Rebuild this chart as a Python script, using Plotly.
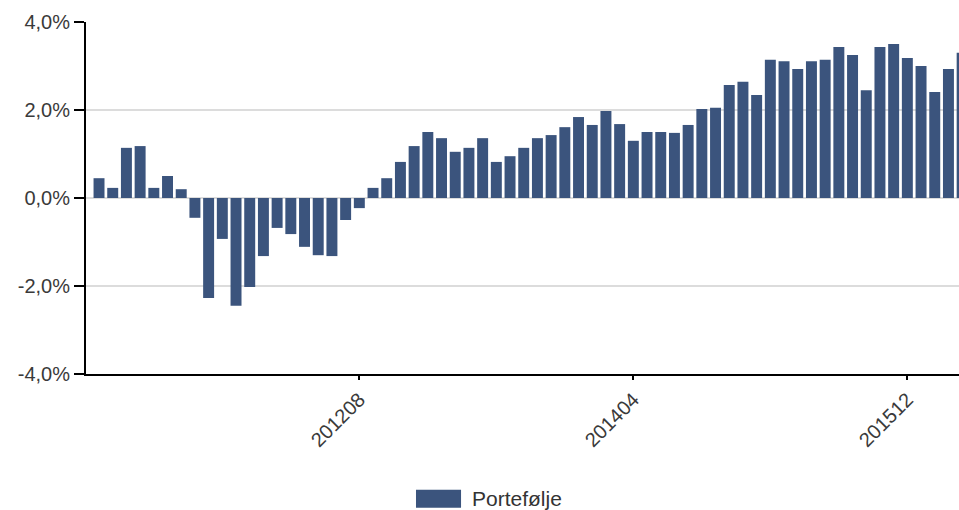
import pandas as pd
import plotly.graph_objects as go

# monthly periods 201101 .. 201604
months = list(pd.period_range("2011-01", periods=64, freq="M").strftime("%Y%m"))

# portfolio return, percent
portefolje = [0.45, 0.23, 1.14, 1.18, 0.23, 0.50, 0.20, -0.45, -2.27, -0.93,
              -2.45, -2.02, -1.32, -0.68, -0.82, -1.11, -1.30, -1.32, -0.50, -0.23,
              0.23, 0.45, 0.82, 1.18, 1.50, 1.36, 1.05, 1.14, 1.36, 0.82,
              0.95, 1.14, 1.36, 1.43, 1.61, 1.84, 1.66, 1.98, 1.68, 1.30,
              1.50, 1.50, 1.48, 1.66, 2.02, 2.05, 2.57, 2.64, 2.34, 3.14,
              3.11, 2.93, 3.11, 3.14, 3.43, 3.25, 2.45, 3.43, 3.50, 3.18,
              3.00, 2.41, 2.93, 3.30]

tick_labels = ["201208", "201404", "201512"]
y_ticks = [-4, -2, 0, 2, 4]
y_tick_text = ["-4,0%", "-2,0%", "0,0%", "2,0%", "4,0%"]

bar_color = "#3b547d"
font_family = "Liberation Sans, Arial, sans-serif"

fig = go.Figure(go.Bar(x=months, y=portefolje, marker_color=bar_color,
                       marker_line_width=0, name="Portefølje", showlegend=False))

fig.update_layout(
    width=959, height=510,
    margin=dict(l=86, r=0, t=22, b=136),
    plot_bgcolor="white", paper_bgcolor="white",
    bargap=0.2,
    font=dict(family=font_family, size=20, color="#3a3a3a"),
)

fig.update_xaxes(type="category", range=[-0.95, 62.77],
                 tickvals=tick_labels, ticktext=tick_labels, tickangle=-45,
                 showline=True, linecolor="black", linewidth=2,
                 ticks="outside", ticklen=4, tickwidth=2, tickcolor="black",
                 showgrid=False, tickfont=dict(size=20, color="#3a3a3a"))

fig.update_yaxes(range=[-4, 4], tickvals=y_ticks, ticktext=y_tick_text,
                 showline=True, linecolor="black", linewidth=2,
                 ticks="outside", ticklen=10, tickwidth=2, tickcolor="black",
                 showgrid=True, gridcolor="#dcdcdc", gridwidth=2,
                 zeroline=True, zerolinecolor="#dcdcdc", zerolinewidth=2,
                 tickfont=dict(size=20, color="#3a3a3a"))

# legend drawn by hand: wide swatch + label
fig.add_shape(type="rect", xref="paper", yref="paper", x0=0.378, x1=0.4296, y0=-0.3798, y1=-0.3287,
              fillcolor=bar_color, line_width=0)
fig.add_annotation(xref="paper", yref="paper", x=0.4399, y=-0.3543, xanchor="left", yanchor="middle",
                   text="Portefølje", showarrow=False, font=dict(size=21, color="#333333"))

# drop the default page margin so the figure fills the window
fig.write_html("out.html", config={"displayModeBar": False},
               post_script="document.body.style.margin='0';document.body.style.overflow='hidden';")
